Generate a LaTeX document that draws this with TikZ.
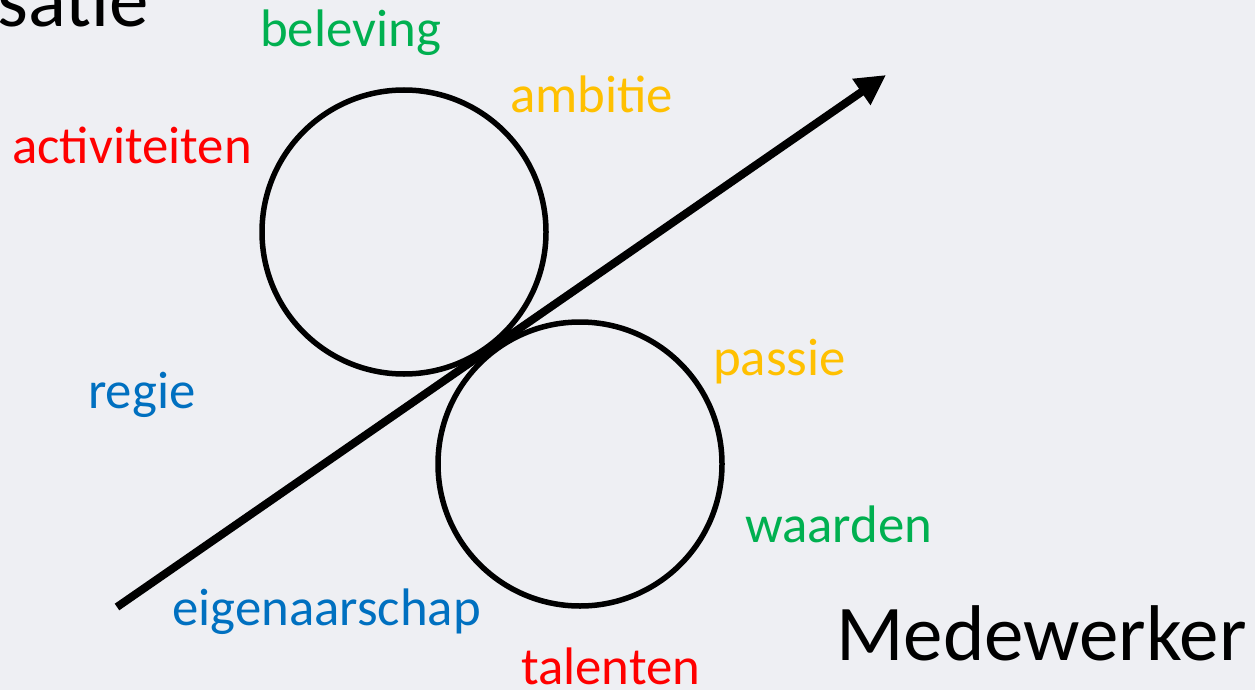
\documentclass[tikz,border=0pt]{standalone}
\usepackage{fontspec}
\setmainfont{Carlito}
\usetikzlibrary{arrows.meta}
\definecolor{bg}{HTML}{EEEFF3}
\definecolor{groen}{HTML}{00B050}
\definecolor{geel}{HTML}{FFC000}
\definecolor{rood}{HTML}{FF0000}
\definecolor{blauw}{HTML}{0070C0}
\tikzset{
  woord/.style={anchor=base west, inner sep=0pt, font=\fontsize{52.8}{60}\selectfont},
  titel/.style={anchor=base west, inner sep=0pt, font=\fontsize{79}{90}\selectfont},
  ring/.style={draw, circle, line width=5.5pt, minimum size=284pt, inner sep=0pt}
}
\begin{document}
\begin{tikzpicture}[x=1pt,y=-1pt]
            \fill[bg] (0, 0) rectangle (1255, 690);
            \clip (0, 0) rectangle (1255, 690);
            \useasboundingbox (0, 0) rectangle (1255, 690);

            \node[ring] (boven) at (404, 232) {};
            \node[ring] (onder) at (580, 464) {};

            \coordinate (start) at (117, 607);
            \coordinate (eind) at (886, 75);
            \draw[line width=8pt, -{Triangle[length=30pt, width=30pt]}] (start) to (eind);

            \node[titel] (organisatie) at (-3, 27) {satie};
            \node[titel] (medewerker) at (836, 660) {Medewerker};

            \node[woord, text=groen] (beleving) at (260, 47) {beleving};
            \node[woord, text=geel] (ambitie) at (510, 113) {ambitie};
            \node[woord, text=rood] (activiteiten) at (12, 163) {activiteiten};
            \node[woord, text=blauw] (regie) at (88, 408) {regie};
            \node[woord, text=geel] (passie) at (713, 375) {passie};
            \node[woord, text=groen] (waarden) at (745, 542) {waarden};
            \node[woord, text=blauw] (eigenaarschap) at (172, 625) {eigenaarschap};
            \node[woord, text=rood] (talenten) at (521, 684) {talenten};
        \end{tikzpicture}
\end{document}
